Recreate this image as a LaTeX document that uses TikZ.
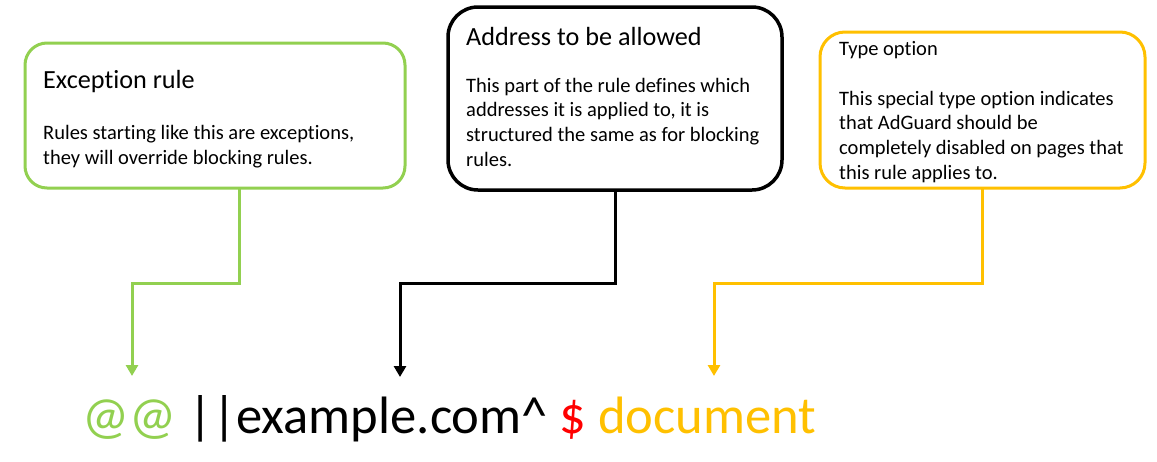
\documentclass[tikz,border=0pt]{standalone}
\usepackage{fontspec}
\setmainfont{Carlito}[Ligatures={NoCommon}]
\usetikzlibrary{arrows.meta}
\definecolor{agreen}{HTML}{92D050}
\definecolor{ayellow}{HTML}{FFC000}
\definecolor{ared}{HTML}{FF0000}
\tikzset{
  box/.style={draw, line width=3pt, fill=white, outer sep=0pt, inner sep=0pt, anchor=north west},
  title/.style={inner sep=0pt, anchor=base west, font=\fontsize{26.2}{31}\selectfont},
  body/.style={inner sep=0pt, anchor=north west, align=left, font=\fontsize{20.5}{24.6}\selectfont},
  conn/.style={line width=3pt, -{Triangle[width=12pt,length=11pt]}},
  rule/.style={inner sep=0pt, anchor=base west, font=\fontsize{52.6}{60}\selectfont}
}
\newcommand{\fstrut}{\rule{0pt}{16pt}}
\begin{document}
\begin{tikzpicture}[x=1pt,y=-1pt]
\useasboundingbox (0,0) rectangle (1157,461);
% boxes
\node[box, draw=agreen, rounded corners=22pt, minimum width=380pt, minimum height=145pt] (gbox) at (25,43) {};
\node[box, draw=black, line width=3.5pt, rounded corners=30pt, minimum width=334pt, minimum height=183pt] (kbox) at (448,7) {};
\node[box, draw=ayellow, rounded corners=25pt, minimum width=325pt, minimum height=156pt] (ybox) at (820,32) {};
% texts
\node[title] (gtitle) at (43,88) {Exception rule};
\node[body] (gbody) at (43,123.5) {\fstrut Rules starting like this are exceptions,\\they will override blocking rules.};
\node[title] (ktitle) at (466,45) {Address to be allowed};
\node[body] (kbody) at (466,76) {\fstrut This part of the rule defines which\\addresses it is applied to, it is\\structured the same as for blocking\\rules.};
\node[body] (ytitle) at (839,39) {\fstrut Type option};
\node[body] (ybody) at (839,89) {\fstrut This special type option indicates\\that AdGuard should be\\completely disabled on pages that\\this rule applies to.};
% rule text
\node[rule] (ruletext) at (82,433) {\textcolor{agreen}{@@} \textbar\textbar example.com\textasciicircum{} \textcolor{ared}{\$} \textcolor{ayellow}{document}};
% connector points
\coordinate (gs) at (239,188);
\coordinate (gm) at (132,283);
\coordinate (gt) at (132,376);
\coordinate (ks) at (615,190);
\coordinate (km) at (400,283);
\coordinate (kt) at (400,377);
\coordinate (ys) at (982,188);
\coordinate (ym) at (714,283);
\coordinate (yt) at (714,376);
\draw[conn, agreen] (gbox.south -| gs) |- (gm) -- (gt);
\draw[conn, black] (kbox.south -| ks) |- (km) -- (kt);
\draw[conn, ayellow] (ybox.south -| ys) |- (ym) -- (yt);
\end{tikzpicture}
\end{document}
